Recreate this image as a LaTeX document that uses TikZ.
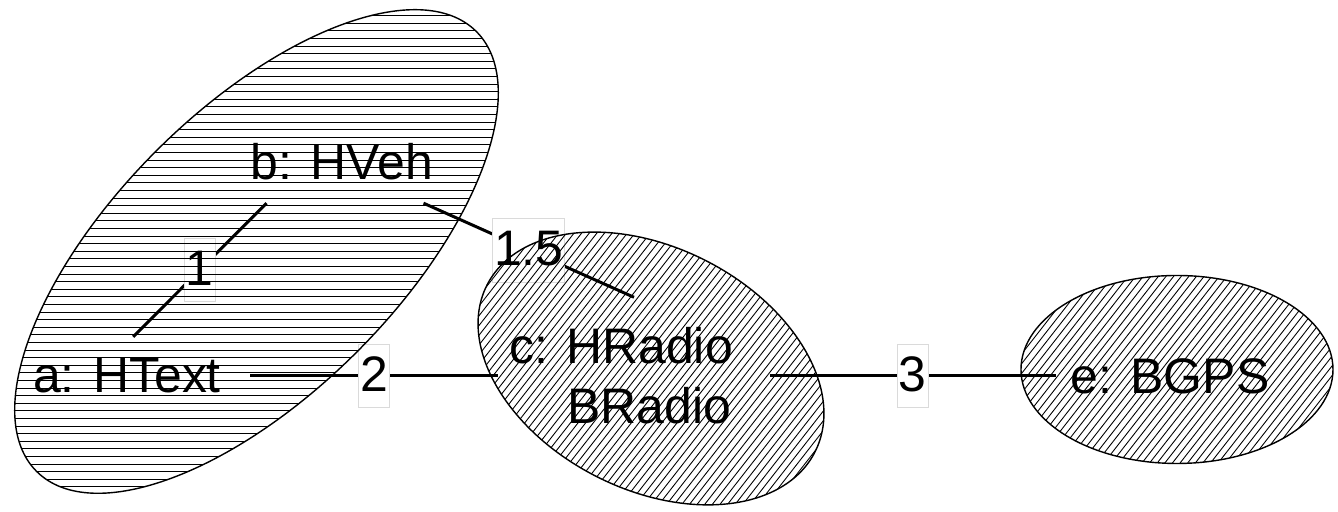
\documentclass[tikz,border=0pt]{standalone}
\usepackage{fontspec}
\setmainfont{Liberation Sans}
\usepackage{xcolor}
\definecolor{Ink}{HTML}{000000}
\definecolor{LabelRule}{HTML}{DADADA}

\begin{document}
\begin{tikzpicture}[
  vert/.style={inner sep=0pt,align=center,font=\fontsize{14.2}{17}\selectfont},
  wt/.style={draw=LabelRule,line width=0.3pt,fill=white,inner sep=0.4pt,text height=0.46cm,text depth=0.15cm,font=\fontsize{14.2}{17}\selectfont},
  link/.style={line width=0.85pt,color=Ink},
  hatch/.style={line width=0.25pt,color=Ink},
  rim/.style={draw=Ink,line width=0.4pt}]
\useasboundingbox (0,0) rectangle (13.38,5.12);
\node[vert,minimum width=2.45cm,minimum height=0.77cm] (a) at (1.27,1.36) {a: HText};
\node[vert,minimum width=2.3cm,minimum height=0.82cm] (b) at (3.417,3.505) {b: HVeh};
\node[vert,minimum width=2.7cm,minimum height=1.56cm] (c) at (6.34,1.36) {c: HRadio\hspace*{0.26cm}\\\hspace*{0.31cm}BRadio};
\node[vert,minimum width=2.27cm,minimum height=0.8cm] (e) at (11.70,1.36) {e: BGPS};
\draw[link] (a.81) -- node[wt]{1} (b.209);
\draw[link] (b.333) -- node[wt]{1.5} (c.north);
\draw[link] (a.east) -- node[wt]{2} (c.west);
\draw[link] (c.east) -- node[wt]{3} (e.west);
% hatched groups go on top of the graph
\begin{scope}
  \clip (2.565,2.605) ellipse [x radius=3.11cm,y radius=1.42cm,rotate=45];
  \foreach \k in {0,...,66}
    \draw[hatch] (0,0.1+\k*0.076) -- (5.2,0.1+\k*0.076);
\end{scope}
\draw[rim] (2.565,2.605) ellipse [x radius=3.11cm,y radius=1.42cm,rotate=45];
\begin{scope}
  \clip (6.51,1.435) ellipse [x radius=1.84cm,y radius=1.21cm,rotate=-27];
  \begin{scope}[shift={(6.51,1.435)},rotate=52]
    \foreach \k in {-34,...,34}
      \draw[hatch] (-2.2,\k*0.06) -- (2.2,\k*0.06);
  \end{scope}
\end{scope}
\draw[rim] (6.51,1.435) ellipse [x radius=1.84cm,y radius=1.21cm,rotate=-27];
\begin{scope}
  \clip (11.77,1.425) ellipse [x radius=1.56cm,y radius=0.94cm];
  \begin{scope}[shift={(11.77,1.425)},rotate=52]
    \foreach \k in {-28,...,28}
      \draw[hatch] (-1.9,\k*0.06) -- (1.9,\k*0.06);
  \end{scope}
\end{scope}
\draw[rim] (11.77,1.425) ellipse [x radius=1.56cm,y radius=0.94cm];
\end{tikzpicture}
\end{document}
